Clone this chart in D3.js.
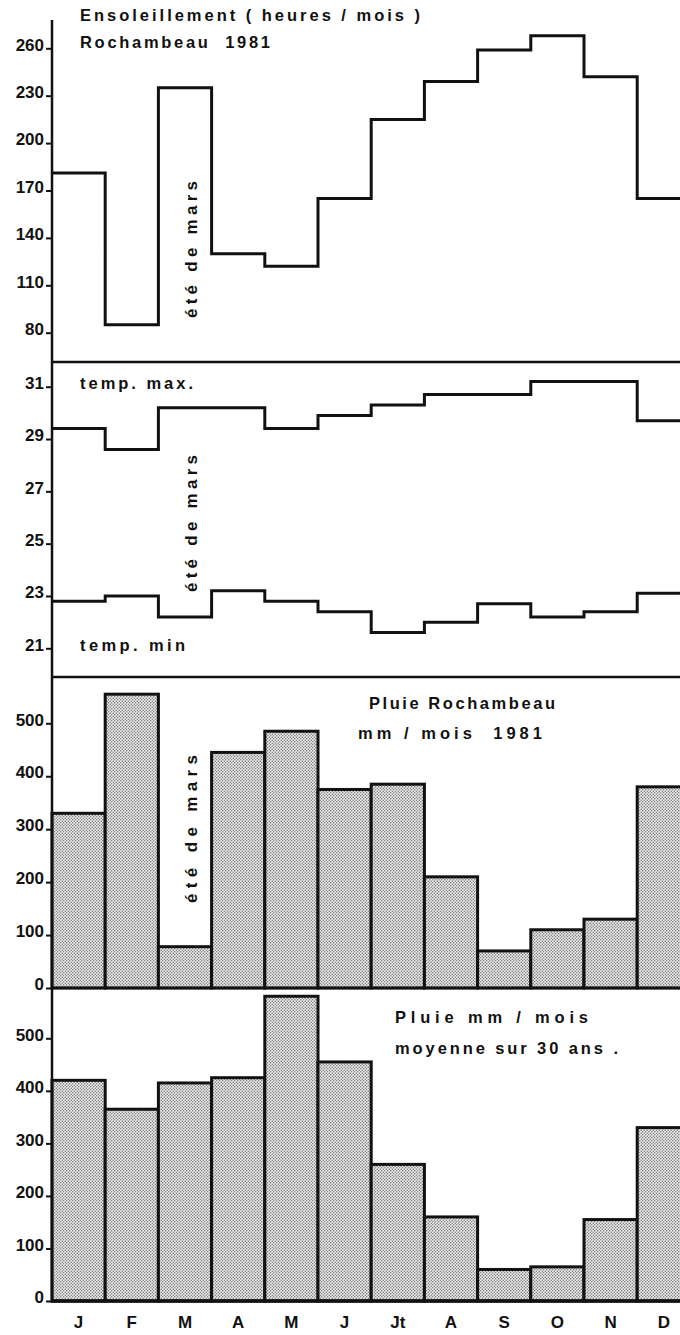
<!DOCTYPE html>
<html>
<head>
<meta charset="utf-8">
<script src="https://cdn.jsdelivr.net/npm/d3@7"></script>
<style>
  html, body { margin: 0; padding: 0; background: #fff; }
  svg { display: block; }
  text { font-family: "Liberation Sans", Arial, Helvetica, sans-serif; font-weight: bold; fill: #111; }
</style>
</head>
<body>
<svg id="chart" width="680" height="1335"></svg>
<script>
// Mois de l'année
const months = ["J", "F", "M", "A", "M2", "J2", "Jt", "A2", "S", "O", "N", "D"];
const monthLabels = ["J", "F", "M", "A", "M", "J", "Jt", "A", "S", "O", "N", "D"];

// Ensoleillement (heures / mois), Rochambeau 1981
const sunshine = [181, 85, 235, 130, 122, 165, 215, 239, 259, 268, 242, 165];
// Températures (°C)
const tempMax = [29.4, 28.6, 30.2, 30.2, 29.4, 29.9, 30.3, 30.7, 30.7, 31.2, 31.2, 29.7];
const tempMin = [22.8, 23.0, 22.2, 23.2, 22.8, 22.4, 21.6, 22.0, 22.7, 22.2, 22.4, 23.1];
// Pluie (mm / mois)
const rain1981 = [330, 555, 78, 445, 485, 375, 385, 210, 70, 110, 130, 380];
const rainMean = [420, 365, 415, 425, 580, 455, 260, 160, 60, 65, 155, 330];

// Graduations
const sunTicks = [80, 110, 140, 170, 200, 230, 260];
const tempTicks = [21, 23, 25, 27, 29, 31];
const rainTicks = [0, 100, 200, 300, 400, 500];

const svg = d3.select("#chart");
const axisX = 52;
const W = 680;

const x = d3.scaleBand().domain(months).range([axisX, axisX + 12 * 53.2]).padding(0);
const bw = x.bandwidth();

const ySun = d3.scaleLinear().domain([80, 260]).range([332.7, 48.3]);
const yTemp = d3.scaleLinear().domain([21, 31]).range([648.3, 386.7]);
const yRain1 = d3.scaleLinear().domain([0, 500]).range([988, 723.3]);
const yRain2 = d3.scaleLinear().domain([0, 500]).range([1301, 1038.3]);

// Trame pointillée des barres
const defs = svg.append("defs");
const pat = defs.append("pattern")
  .attr("id", "stipple").attr("patternUnits", "userSpaceOnUse")
  .attr("width", 3).attr("height", 3);
pat.append("rect").attr("width", 3).attr("height", 3).attr("fill", "#ebebeb");
pat.append("circle").attr("cx", 0.75).attr("cy", 0.75).attr("r", 0.7).attr("fill", "#6a6a6a");
pat.append("circle").attr("cx", 2.25).attr("cy", 2.25).attr("r", 0.7).attr("fill", "#6a6a6a");

// Axe gauche avec graduations
function leftAxis(scale, ticks) {
  const g = svg.append("g")
    .attr("transform", `translate(${axisX},0)`)
    .call(d3.axisLeft(scale).tickValues(ticks).tickSize(6).tickPadding(2).tickFormat(d3.format("d")));
  g.select(".domain").remove();
  g.selectAll(".tick line").attr("stroke", "#111").attr("stroke-width", 2);
  g.selectAll(".tick text")
    .attr("dy", "0.1em")
    .attr("font-size", 17)
    .attr("font-family", null)
    .attr("fill", "#111");
  return g;
}

// Ligne en escalier : un palier par mois
function stepLine(values, scale) {
  const pts = [];
  months.forEach((m, i) => {
    pts.push([x(m), values[i]]);
    pts.push([x(m) + bw, values[i]]);
  });
  svg.append("path")
    .attr("d", d3.line().x(d => d[0]).y(d => scale(d[1]))(pts))
    .attr("fill", "none")
    .attr("stroke", "#111")
    .attr("stroke-width", 3)
    .attr("stroke-linejoin", "miter");
}

function bars(values, scale) {
  svg.append("g").selectAll("rect")
    .data(values)
    .join("rect")
    .attr("x", (d, i) => x(months[i]))
    .attr("y", d => scale(d))
    .attr("width", bw)
    .attr("height", d => scale(0) - scale(d))
    .attr("fill", "url(#stipple)")
    .attr("stroke", "#111")
    .attr("stroke-width", 3);
}

// Texte espacé : la longueur totale fixe l'espacement des lettres
function label(txt, px, py, len, rotate) {
  const t = svg.append("text")
    .attr("x", px).attr("y", py)
    .attr("font-size", rotate ? 17 : 16.5)
    .attr("textLength", len)
    .attr("lengthAdjust", "spacing")
    .attr("xml:space", "preserve")
    .text(txt);
  if (rotate) {
    t.attr("transform", `rotate(-90,${px},${py})`);
  }
  return t;
}

// ---- Ensoleillement ----
stepLine(sunshine, ySun);
leftAxis(ySun, sunTicks);
label("Ensoleillement ( heures / mois )", 80, 21, 340);
label("Rochambeau  1981", 80, 48, 190);
label("été de mars", 197, 318, 137, true);

// ---- Températures ----
stepLine(tempMax, yTemp);
stepLine(tempMin, yTemp);
leftAxis(yTemp, tempTicks);
label("temp. max.", 80, 389, 113);
label("temp. min", 80, 651, 105);
label("été de mars", 197, 592, 137, true);

// ---- Pluie 1981 ----
bars(rain1981, yRain1);
leftAxis(yRain1, rainTicks);
label("Pluie Rochambeau", 369, 709, 186);
label("mm / mois  1981", 358, 739, 184);
label("été de mars", 197, 903, 148, true);

// ---- Pluie moyenne ----
bars(rainMean, yRain2);
leftAxis(yRain2, rainTicks);
label("Pluie mm / mois", 395, 1023, 193);
label("moyenne sur 30 ans .", 395, 1054, 223);

// Séparations entre panneaux et axe vertical
[362, 677, 988].forEach(yy => {
  svg.append("line").attr("x1", axisX).attr("x2", W)
    .attr("y1", yy).attr("y2", yy)
    .attr("stroke", "#111").attr("stroke-width", 2.5);
});
svg.append("line").attr("x1", axisX).attr("x2", W)
  .attr("y1", yRain2(0)).attr("y2", yRain2(0))
  .attr("stroke", "#111").attr("stroke-width", 3.5);
svg.append("line").attr("x1", axisX).attr("x2", axisX)
  .attr("y1", 20).attr("y2", yRain2(0) + 1.5)
  .attr("stroke", "#111").attr("stroke-width", 2.5);

// Étiquettes des mois
svg.append("g").selectAll("text")
  .data(months)
  .join("text")
  .attr("x", d => x(d) + bw / 2)
  .attr("y", 1328)
  .attr("text-anchor", "middle")
  .attr("font-size", 17)
  .text((d, i) => monthLabels[i]);
</script>
</body>
</html>
